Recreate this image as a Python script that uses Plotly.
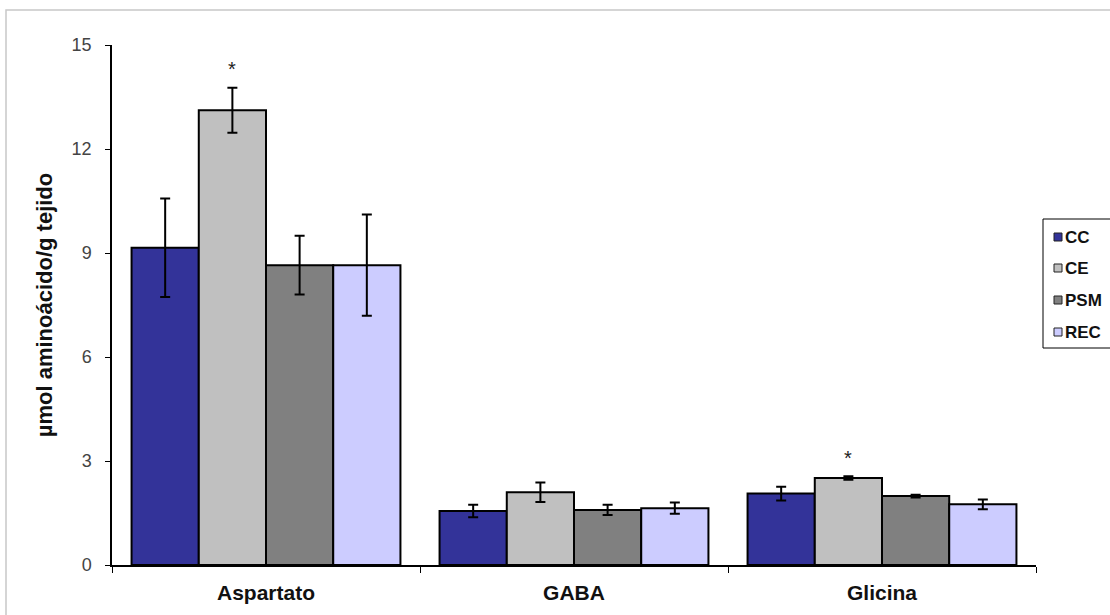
import plotly.graph_objects as go

# Amino acid levels per group (mean ± error)
categories = ["Aspartato", "GABA", "Glicina"]
groups = ["CC", "CE", "PSM", "REC"]

cc_mean = [9.15, 1.56, 2.06]
cc_err = [1.42, 0.18, 0.20]
ce_mean = [13.12, 2.10, 2.51]
ce_err = [0.65, 0.28, 0.05]
psm_mean = [8.65, 1.59, 1.99]
psm_err = [0.85, 0.15, 0.04]
rec_mean = [8.65, 1.64, 1.75]
rec_err = [1.46, 0.16, 0.14]

means = [cc_mean, ce_mean, psm_mean, rec_mean]
errors = [cc_err, ce_err, psm_err, rec_err]
colors = ["#333399", "#C0C0C0", "#808080", "#CCCCFF"]

# significance marks above CE bars
star_categories = ["Aspartato", "Glicina"]
star_values = [14.3, 3.1]

W, H = 1110, 615
ML, MR, MT, MB = 112, 74, 45, 50
pw = W - ML - MR
ph = H - MT - MB


def px_x(px):
    return (px - ML) / pw


def px_y(py):
    return (H - MB - py) / ph


fig = go.Figure()
for name, m, e, c in zip(groups, means, errors, colors):
    fig.add_trace(go.Bar(
        name=name, x=categories, y=m,
        marker=dict(color=c, line=dict(color="black", width=2)),
        error_y=dict(type="data", array=e, visible=True, color="black",
                     thickness=2, width=5),
        showlegend=False,
    ))

for cat, v in zip(star_categories, star_values):
    fig.add_annotation(x=cat, y=v, xref="x", yref="y", text="*", showarrow=False,
                       xshift=-34, font=dict(family="Arial", size=20, color="#222"))

# light frame around the chart area
fig.add_shape(type="rect", xref="paper", yref="paper",
              x0=px_x(6), x1=px_x(W + 5), y0=px_y(H + 5), y1=px_y(10),
              line=dict(color="#c8c8c8", width=1.5), fillcolor="rgba(0,0,0,0)",
              layer="below")

# legend box with one swatch and label per group
fig.add_shape(type="rect", xref="paper", yref="paper",
              x0=px_x(1043), x1=px_x(W + 5), y0=px_y(348), y1=px_y(219),
              line=dict(color="black", width=1), fillcolor="white")
item_y = [237, 268, 300, 332]
for name, c, yy in zip(groups, colors, item_y):
    fig.add_shape(type="rect", xref="paper", yref="paper",
                  x0=px_x(1054), x1=px_x(1062), y0=px_y(yy + 4), y1=px_y(yy - 4),
                  line=dict(color="#222", width=1), fillcolor=c)
    fig.add_annotation(x=px_x(1063), y=px_y(yy), xref="paper", yref="paper",
                       text="<b>%s</b>" % name, showarrow=False,
                       xanchor="left", yanchor="middle",
                       font=dict(family="Arial", size=17, color="#111"))

fig.update_layout(
    width=W, height=H,
    margin=dict(l=ML, r=MR, t=MT, b=MB, autoexpand=False),
    paper_bgcolor="white", plot_bgcolor="white",
    barmode="group", bargap=0.127, bargroupgap=0,
    font=dict(family="Arial", color="#222"),
    showlegend=False,
    xaxis=dict(showline=True, linecolor="black", linewidth=1.5,
               ticks="outside", tickson="boundaries", ticklen=6, tickcolor="black",
               ticklabelstandoff=8,
               tickfont=dict(family="Arial", size=21, color="#111", weight="bold"),
               showgrid=False),
    yaxis=dict(range=[0, 15], tickvals=[0, 3, 6, 9, 12, 15],
               showline=True, linecolor="black", linewidth=1.5,
               ticks="outside", ticklen=5, tickcolor="black",
               ticklabelstandoff=10,
               tickfont=dict(family="Arial", size=18, color="#444"),
               showgrid=False, zeroline=False,
               title=dict(text="µmol aminoácido/g tejido", standoff=13,
                          font=dict(family="Arial", size=22, color="#111", weight="bold"))),
)

fig.write_html("out.html")
